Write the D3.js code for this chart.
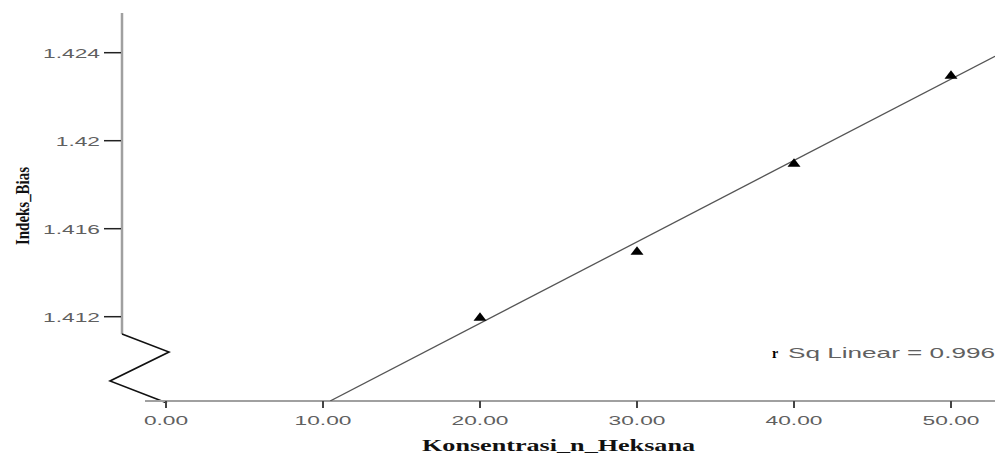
<!DOCTYPE html>
<html>
<head>
<meta charset="utf-8">
<script src="https://cdn.jsdelivr.net/npm/d3@7"></script>
<style>
  html, body { margin: 0; padding: 0; background: #fff; }
  svg { display: block; }
</style>
</head>
<body>
<svg id="chart" width="999" height="453"></svg>
<script>
// Data: refractive index against n-hexane concentration
const concentration = [20, 30, 40, 50];
const refractiveIndex = [1.412, 1.415, 1.419, 1.423];
const xTickValues = [0, 10, 20, 30, 40, 50];
const xTickLabels = ["0.00", "10.00", "20.00", "30.00", "40.00", "50.00"];
const yTickValues = [1.412, 1.416, 1.42, 1.424];
const yTickLabels = ["1.412", "1.416", "1.42", "1.424"];
const xTitle = "Konsentrasi_n_Heksana";
const yTitle = "Indeks_Bias";

const svg = d3.select("#chart");

// Layout
const yAxisX = 122, yAxisTop = 13, yAxisBottom = 334;
const xAxisY = 401, xAxisLeft = 145, xAxisRight = 995;

const x = d3.scaleLinear().domain([0, 50]).range([166, 951]);
const y = d3.scaleLinear().domain([1.412, 1.424]).range([316.7, 52.7]);

// Least-squares fit
const n = concentration.length;
const mx = d3.mean(concentration), my = d3.mean(refractiveIndex);
let sxy = 0, sxx = 0, syy = 0;
for (let i = 0; i < n; i++) {
  const dx = concentration[i] - mx, dy = refractiveIndex[i] - my;
  sxy += dx * dy; sxx += dx * dx; syy += dy * dy;
}
const slope = sxy / sxx, intercept = my - slope * mx;
const r2 = (sxy * sxy) / (sxx * syy);

// Horizontally stretched text helper
function stretchedText(g, tx, ty, str, opts) {
  return g.append("text")
    .attr("transform", `translate(${tx},${ty}) scale(${opts.sx || 1},1)`)
    .attr("text-anchor", opts.anchor || "middle")
    .attr("dominant-baseline", "central")
    .style("font-family", opts.family || "'Liberation Sans', Arial, sans-serif")
    .style("font-size", (opts.size || 13) + "px")
    .style("font-weight", opts.weight || "normal")
    .attr("fill", opts.fill || "#555")
    .text(str);
}

// Y axis
svg.append("line")
  .attr("x1", yAxisX).attr("x2", yAxisX)
  .attr("y1", yAxisTop).attr("y2", yAxisBottom)
  .attr("stroke", "#a0a0a0").attr("stroke-width", 2.5);

const yt = svg.append("g");
yTickValues.forEach((v, i) => {
  yt.append("line")
    .attr("x1", 104).attr("x2", yAxisX - 1)
    .attr("y1", y(v)).attr("y2", y(v))
    .attr("stroke", "#222").attr("stroke-width", 1.5);
  stretchedText(yt, 100, y(v) + 0.5, yTickLabels[i], { anchor: "end", sx: 1.75, size: 13, fill: "#606060" });
});

// Axis break zigzag
svg.append("polyline")
  .attr("points", [[yAxisX, yAxisBottom], [169, 352], [110, 381], [167, 403]].map(p => p.join(",")).join(" "))
  .attr("fill", "none").attr("stroke", "#111").attr("stroke-width", 1.6);

// X axis
svg.append("line")
  .attr("x1", xAxisLeft).attr("x2", xAxisRight)
  .attr("y1", xAxisY).attr("y2", xAxisY)
  .attr("stroke", "#a0a0a0").attr("stroke-width", 2);

const xt = svg.append("g");
xTickValues.forEach((v, i) => {
  xt.append("line")
    .attr("x1", x(v)).attr("x2", x(v))
    .attr("y1", xAxisY).attr("y2", xAxisY + 7)
    .attr("stroke", "#444").attr("stroke-width", 2);
  stretchedText(xt, x(v), 420, xTickLabels[i], { anchor: "middle", sx: 1.75, size: 13, fill: "#606060" });
});

// Fit line, clipped to the plot area
svg.append("clipPath").attr("id", "plotClip")
  .append("rect").attr("x", yAxisX).attr("y", 0)
  .attr("width", xAxisRight - yAxisX).attr("height", xAxisY);

const xEnd = x.invert(xAxisRight);
const xStart = (y.invert(xAxisY) - intercept) / slope;
svg.append("line")
  .attr("clip-path", "url(#plotClip)")
  .attr("x1", x(xStart)).attr("y1", y(intercept + slope * xStart))
  .attr("x2", x(xEnd)).attr("y2", y(intercept + slope * xEnd))
  .attr("stroke", "#555").attr("stroke-width", 1.3);

// Points (flattened triangles)
svg.append("g").selectAll("path")
  .data(concentration.map((c, i) => [c, refractiveIndex[i]]))
  .join("path")
  .attr("transform", d => `translate(${x(d[0])},${y(d[1])})`)
  .attr("d", "M-6.5,4 L0,-4.5 L6.5,4 Z")
  .attr("fill", "#000");

// R-squared annotation
const ann = svg.append("g");
ann.append("text")
  .attr("x", 772).attr("y", 353)
  .attr("dominant-baseline", "central")
  .style("font-family", "'Liberation Serif', 'Times New Roman', serif")
  .style("font-size", "14px").style("font-weight", "bold")
  .attr("fill", "#000").text("r");
ann.append("text")
  .attr("x", 788).attr("y", 352)
  .attr("dominant-baseline", "central")
  .attr("textLength", 207).attr("lengthAdjust", "spacingAndGlyphs")
  .style("font-family", "'Liberation Sans', Arial, sans-serif")
  .style("font-size", "15px")
  .attr("fill", "#606060")
  .text("Sq Linear = " + r2.toFixed(3));

// Axis titles
svg.append("text")
  .attr("x", 422).attr("y", 445)
  .attr("dominant-baseline", "central")
  .attr("textLength", 273).attr("lengthAdjust", "spacingAndGlyphs")
  .style("font-family", "'Liberation Serif', 'Times New Roman', serif")
  .style("font-size", "17px").style("font-weight", "bold")
  .attr("fill", "#111").text(xTitle);

svg.append("text")
  .attr("transform", "translate(22,206) rotate(-90)")
  .attr("text-anchor", "middle")
  .attr("dominant-baseline", "central")
  .attr("textLength", 78).attr("lengthAdjust", "spacingAndGlyphs")
  .style("font-family", "'Liberation Serif', 'Times New Roman', serif")
  .style("font-size", "19px").style("font-weight", "bold")
  .attr("fill", "#111").text(yTitle);
</script>
</body>
</html>
